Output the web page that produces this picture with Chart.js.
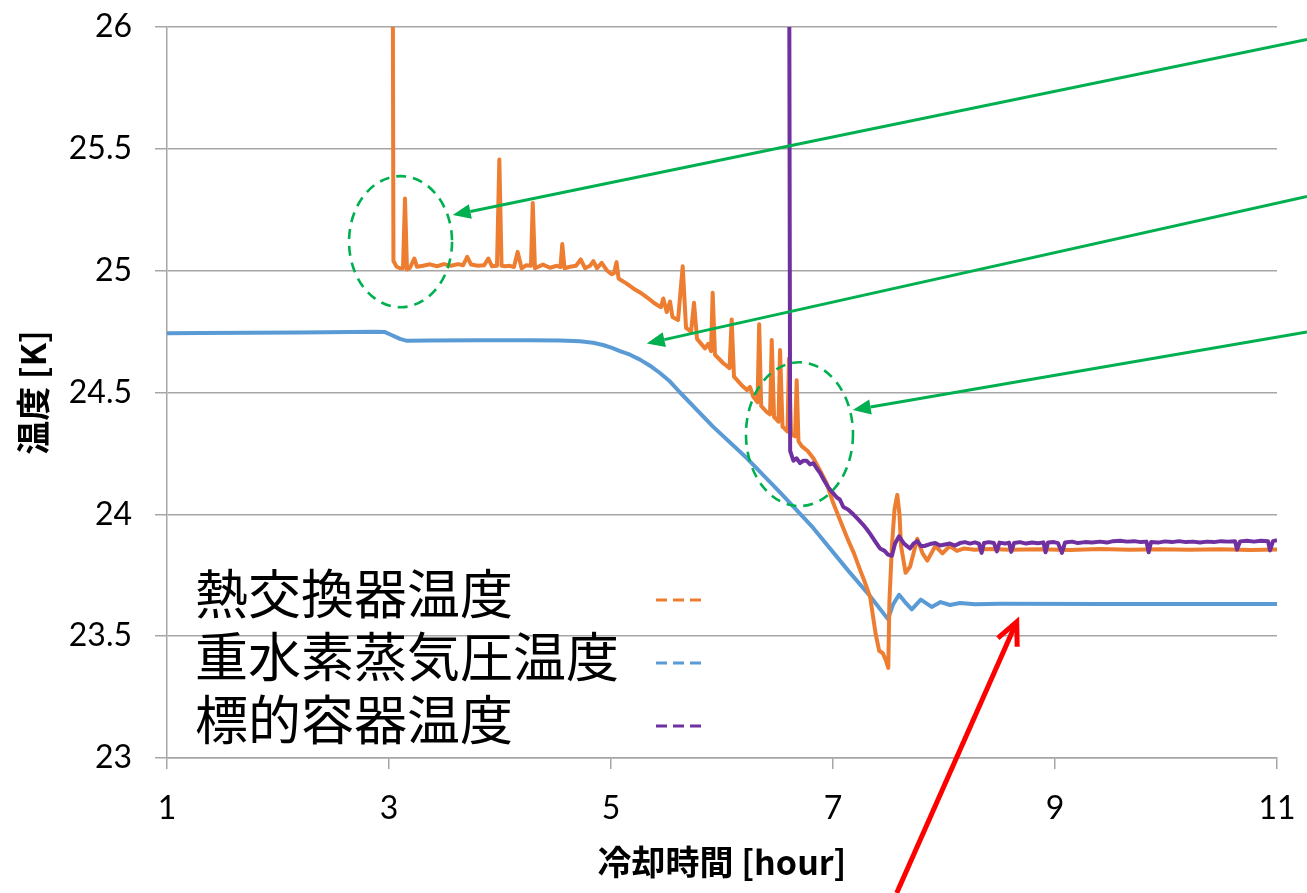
<!DOCTYPE html>
<html>
<head>
<meta charset="utf-8">
<script src="https://cdn.jsdelivr.net/npm/chart.js@4.4.1/dist/chart.umd.min.js"></script>
<style>
html,body{margin:0;padding:0;background:#fff;}
#wrap{width:1307px;height:893px;position:relative;}
</style>
</head>
<body>
<div id="wrap"><canvas id="c" width="1307" height="893"></canvas></div>
<script>
// ---------------- data ----------------
const seriesLabels = ['熱交換器温度', '重水素蒸気圧温度', '標的容器温度'];
const xTitle = '冷却時間 [hour]';
const yTitle = '温度 [K]';
const xTicks = [1, 3, 5, 7, 9, 11];
const yTicks = [23, 23.5, 24, 24.5, 25, 25.5, 26];

// 熱交換器温度 (heat exchanger)
const heatExX = [3.032,3.040,3.069,3.099,3.126,3.144,3.162,3.189,3.228,3.252,3.306,3.369,3.432,3.495,3.559,3.622,3.667,3.705,3.739,3.802,3.856,3.895,3.928,3.973,3.994,4.014,4.045,4.090,4.126,4.159,4.195,4.234,4.279,4.295,4.315,4.387,4.450,4.514,4.545,4.561,4.581,4.631,4.685,4.727,4.766,4.811,4.841,4.874,4.916,4.961,5.006,5.027,5.050,5.068,5.141,5.201,5.277,5.336,5.396,5.450,5.471,5.502,5.532,5.554,5.604,5.646,5.676,5.721,5.748,5.775,5.847,5.877,5.901,5.916,5.937,6.012,6.068,6.087,6.108,6.177,6.225,6.252,6.282,6.320,6.335,6.353,6.403,6.433,6.448,6.469,6.509,6.523,6.545,6.590,6.604,6.622,6.658,6.673,6.689,6.718,6.772,6.823,6.883,6.943,7.003,7.063,7.140,7.189,7.237,7.288,7.335,7.384,7.416,7.449,7.477,7.498,7.508,7.531,7.554,7.579,7.599,7.613,7.654,7.694,7.759,7.807,7.850,7.922,7.986,8.052,8.117,8.182,8.279,8.414,8.595,8.865,9.135,9.405,9.676,9.946,10.216,10.486,10.757,11.0];
const heatExY = [26.6,25.04,25.016,25.01,25.01,25.296,25.005,25.012,25.05,25.016,25.02,25.026,25.018,25.027,25.02,25.027,25.022,25.057,25.025,25.02,25.022,25.05,25.018,25.02,25.456,25.02,25.018,25.02,25.015,25.077,25.009,25.022,25.02,25.278,25.01,25.025,25.012,25.02,25.015,25.109,25.01,25.016,25.02,25.046,25.01,25.02,25.039,25.01,25.032,25.002,24.985,24.99,25.035,24.968,24.947,24.927,24.906,24.886,24.865,24.85,24.886,24.83,24.873,24.81,24.797,25.018,24.765,24.75,24.868,24.72,24.681,24.70,24.67,24.909,24.655,24.62,24.60,24.80,24.565,24.53,24.51,24.523,24.482,24.46,24.78,24.445,24.42,24.41,24.715,24.40,24.38,24.674,24.36,24.34,24.64,24.33,24.32,24.55,24.30,24.28,24.26,24.23,24.18,24.127,24.045,23.977,23.89,23.84,23.78,23.72,23.66,23.51,23.44,23.43,23.40,23.37,23.64,23.87,24.02,24.08,24.00,23.87,23.76,23.785,23.90,23.84,23.81,23.87,23.84,23.87,23.85,23.86,23.855,23.858,23.855,23.857,23.854,23.858,23.855,23.857,23.855,23.857,23.854,23.856];

// 重水素蒸気圧温度 (D2 vapour-pressure temperature)
const vaporX = [1.0,1.297,1.748,2.198,2.649,2.874,2.964,3.027,3.099,3.162,3.369,3.820,4.270,4.541,4.721,4.838,4.928,5.009,5.081,5.171,5.261,5.351,5.441,5.532,5.622,5.919,6.225,6.523,6.820,7.135,7.333,7.495,7.541,7.595,7.649,7.710,7.791,7.889,7.970,8.054,8.144,8.279,8.505,9.405,10.306,11.0];
const vaporY = [24.743,24.744,24.745,24.746,24.748,24.749,24.748,24.735,24.72,24.712,24.713,24.714,24.714,24.713,24.71,24.704,24.695,24.683,24.67,24.655,24.635,24.61,24.58,24.545,24.50,24.36,24.23,24.09,23.945,23.77,23.665,23.57,23.63,23.67,23.64,23.61,23.65,23.62,23.64,23.628,23.636,23.631,23.633,23.632,23.632,23.632];

// 標的容器温度 (target vessel)
const targetX = [6.604,6.614,6.643,6.671,6.703,6.734,6.763,6.793,6.823,6.851,6.883,6.919,6.958,6.995,7.033,7.063,7.093,7.135,7.183,7.225,7.266,7.303,7.335,7.378,7.423,7.465,7.495,7.531,7.559,7.595,7.640,7.694,7.725,7.759,7.793,
  7.823,7.874,7.922,7.964,8.009,8.054,8.099,8.144,8.189,8.234,8.279,8.315,8.339,8.360,8.405,8.450,8.476,8.500,8.550,8.586,8.605,8.631,8.685,8.739,8.793,8.847,8.896,8.915,8.937,8.991,9.027,9.062,9.090,9.153,9.207,9.270,9.333,9.405,9.468,9.523,9.586,9.649,9.712,9.775,9.824,9.844,9.865,9.928,9.991,10.054,10.117,10.180,10.243,10.306,10.369,10.432,10.495,10.559,10.622,10.640,10.667,10.730,10.793,10.856,10.919,10.937,10.964,11.0];
const targetY = [26.6,24.26,24.22,24.23,24.21,24.22,24.22,24.205,24.21,24.19,24.17,24.14,24.11,24.09,24.07,24.06,24.03,24.02,24.00,23.98,23.96,23.94,23.92,23.89,23.86,23.85,23.835,23.83,23.88,23.91,23.88,23.86,23.88,23.89,23.87,
  23.870,23.878,23.882,23.872,23.876,23.880,23.872,23.882,23.886,23.880,23.885,23.880,23.842,23.882,23.886,23.882,23.848,23.884,23.880,23.884,23.846,23.882,23.886,23.880,23.884,23.881,23.885,23.844,23.884,23.886,23.882,23.842,23.884,23.888,23.882,23.886,23.884,23.888,23.884,23.890,23.892,23.888,23.890,23.886,23.888,23.844,23.886,23.884,23.889,23.886,23.890,23.886,23.888,23.884,23.888,23.886,23.890,23.888,23.890,23.855,23.889,23.892,23.888,23.892,23.890,23.852,23.890,23.894];

// annotations (in data coordinates)
const ellipses = [
  {cx: 3.104, cy: 25.119, rx: 0.464, ry: 0.269},
  {cx: 6.698, cy: 24.329, rx: 0.482, ry: 0.295}
];
const greenArrows = [
  {from: [11.27, 25.949], to: [3.574, 25.228]},
  {from: [11.27, 25.305], to: [5.322, 24.701]},
  {from: [11.27, 24.748], to: [7.178, 24.428]}
];
const redArrow = {from: [7.574, 22.446], to: [8.655, 23.559]};

// ---------------- styles ----------------
const COLORS = ['#ed7d31', '#5b9bd5', '#7030a0'];
const GRID = '#a6a6a6';
const GREEN = '#00b050';
const RED = '#ff0000';
const NUM_FONT = 'Lato, "Liberation Sans", sans-serif';
const JP_FONT = '"Noto Sans CJK JP", "Noto Sans", sans-serif';

function zip(xs, ys) {
  if (xs.length !== ys.length) throw new Error('length mismatch ' + xs.length + ' ' + ys.length);
  return xs.map((x, i) => ({x: x, y: ys[i]}));
}

const annotPlugin = {
  id: 'annot',
  afterDatasetsDraw(chart) {
    const {ctx} = chart;
    const xs = chart.scales.x, ys = chart.scales.y;
    const px = v => xs.getPixelForValue(v), py = v => ys.getPixelForValue(v);
    ctx.save();
    ctx.strokeStyle = GREEN;
    ctx.lineWidth = 2.6;
    ctx.setLineDash([10, 7]);
    ellipses.forEach(e => {
      const cx = px(e.cx), cy = py(e.cy);
      const rx = Math.abs(px(e.cx + e.rx) - cx), ry = Math.abs(py(e.cy + e.ry) - cy);
      ctx.beginPath();
      ctx.ellipse(cx, cy, rx, ry, 0, 0, Math.PI * 2);
      ctx.stroke();
    });
    ctx.setLineDash([]);
    greenArrows.forEach(a => {
      const x0 = px(a.from[0]), y0 = py(a.from[1]);
      const x1 = px(a.to[0]), y1 = py(a.to[1]);
      const ang = Math.atan2(y1 - y0, x1 - x0);
      const L = 18, W = 7.5;
      const bx = x1 - L * Math.cos(ang), by = y1 - L * Math.sin(ang);
      ctx.strokeStyle = GREEN; ctx.fillStyle = GREEN; ctx.lineWidth = 3;
      ctx.beginPath(); ctx.moveTo(x0, y0); ctx.lineTo(bx, by); ctx.stroke();
      ctx.beginPath();
      ctx.moveTo(x1, y1);
      ctx.lineTo(bx + W * Math.sin(ang), by - W * Math.cos(ang));
      ctx.lineTo(bx - W * Math.sin(ang), by + W * Math.cos(ang));
      ctx.closePath(); ctx.fill();
    });
    {
      const x0 = px(redArrow.from[0]), y0 = py(redArrow.from[1]);
      const x1 = px(redArrow.to[0]), y1 = py(redArrow.to[1]);
      const back = Math.atan2(y0 - y1, x0 - x1);
      const arm = 25, spread = 25 * Math.PI / 180;
      ctx.strokeStyle = RED; ctx.lineWidth = 5; ctx.lineJoin = 'miter'; ctx.lineCap = 'butt';
      ctx.beginPath(); ctx.moveTo(x0, y0); ctx.lineTo(x1, y1); ctx.stroke();
      ctx.beginPath();
      ctx.moveTo(x1 + arm * Math.cos(back + spread), y1 + arm * Math.sin(back + spread));
      ctx.lineTo(x1, y1);
      ctx.lineTo(x1 + arm * Math.cos(back - spread), y1 + arm * Math.sin(back - spread));
      ctx.stroke();
    }
    ctx.restore();
  }
};

const legendPlugin = {
  id: 'textLegend',
  afterDraw(chart) {
    const {ctx, chartArea} = chart;
    const textX = chartArea.left + 28;
    const firstY = chartArea.top + 567;
    const gap = 63;
    const sampleX0 = chartArea.left + 489, sampleX1 = chartArea.left + 536;
    ctx.save();
    chart.data.datasets.forEach((ds, i) => {
      const y = firstY + i * gap;
      ctx.font = '53px ' + JP_FONT;
      ctx.fillStyle = '#000';
      ctx.textAlign = 'left';
      ctx.textBaseline = 'middle';
      ctx.fillText(ds.label, textX, y);
      ctx.strokeStyle = ds.borderColor;
      ctx.lineWidth = 3;
      ctx.setLineDash([11, 6]);
      ctx.beginPath();
      ctx.moveTo(sampleX0, y + 6);
      ctx.lineTo(sampleX1, y + 6);
      ctx.stroke();
    });
    ctx.restore();
  }
};

new Chart(document.getElementById('c'), {
  type: 'line',
  data: {
    datasets: [
      {label: seriesLabels[0], data: zip(heatExX, heatExY), borderColor: COLORS[0], borderWidth: 4, order: 1},
      {label: seriesLabels[1], data: zip(vaporX, vaporY), borderColor: COLORS[1], borderWidth: 4, order: 2},
      {label: seriesLabels[2], data: zip(targetX, targetY), borderColor: COLORS[2], borderWidth: 4, order: 0}
    ]
  },
  options: {
    responsive: false,
    animation: false,
    devicePixelRatio: 1,
    elements: {point: {radius: 0}, line: {tension: 0, borderJoinStyle: 'round'}},
    layout: {padding: {top: 27, right: 30, bottom: 0, left: 0}},
    plugins: {legend: {display: false}, tooltip: {enabled: false}},
    scales: {
      x: {
        type: 'linear',
        min: xTicks[0], max: xTicks[xTicks.length - 1],
        afterBuildTicks(s) { s.ticks = xTicks.map(v => ({value: v})); },
        afterFit(s) { s.height = 135; s.paddingLeft = 0; s.paddingRight = 0; },
        grid: {drawOnChartArea: false, drawTicks: true, tickLength: 11, color: GRID, lineWidth: 1.5},
        border: {display: true, color: GRID, width: 1.5},
        ticks: {color: '#000', font: {family: NUM_FONT, size: 32}, padding: 20, maxRotation: 0, callback: v => String(v)},
        title: {display: true, text: xTitle, color: '#000', font: {family: JP_FONT, size: 34, weight: 'bold'}, padding: {top: 0, bottom: 11}}
      },
      y: {
        type: 'linear',
        min: yTicks[0], max: yTicks[yTicks.length - 1],
        afterBuildTicks(s) { s.ticks = yTicks.map(v => ({value: v})); },
        afterFit(s) { s.width = 167; s.paddingTop = 0; s.paddingBottom = 0; },
        grid: {drawOnChartArea: true, drawTicks: true, tickLength: 12, color: GRID, lineWidth: 1.5},
        border: {display: true, color: GRID, width: 1.5},
        ticks: {color: '#000', font: {family: NUM_FONT, size: 32}, padding: 23, callback: v => String(v)},
        title: {display: true, text: yTitle, color: '#000', font: {family: JP_FONT, size: 34, weight: 'bold'}, padding: {top: 13, bottom: 0}}
      }
    }
  },
  plugins: [annotPlugin, legendPlugin]
});
</script>
</body>
</html>
